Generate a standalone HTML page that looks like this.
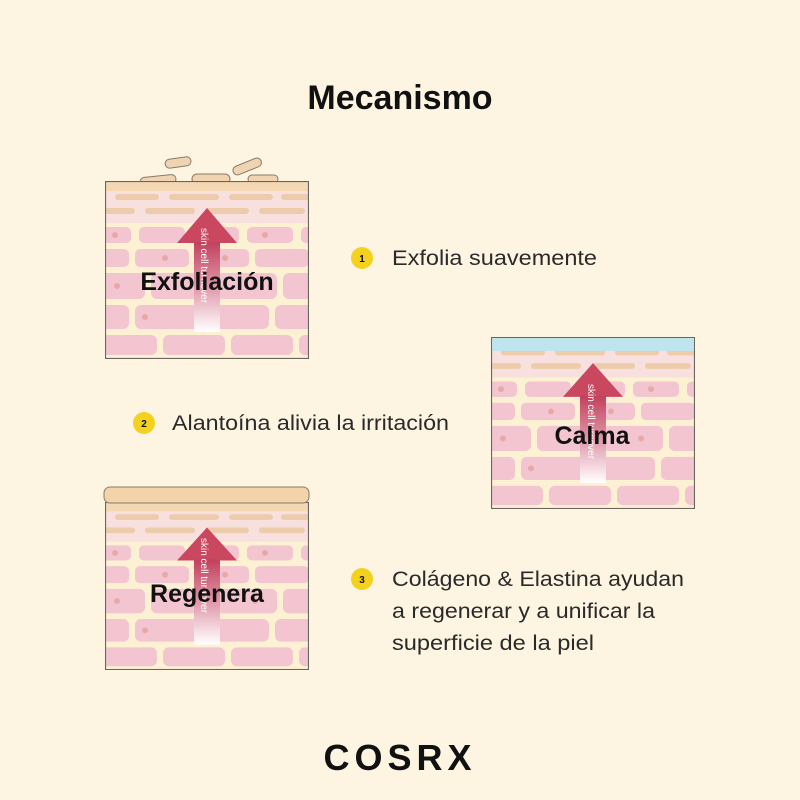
<!DOCTYPE html>
<html><head><meta charset="utf-8"><style>
html,body{margin:0;padding:0;background:#fdf5e2;}
svg{display:block;font-family:"Liberation Sans",sans-serif;}
</style></head><body>
<svg width="800" height="800" viewBox="0 0 800 800" xmlns="http://www.w3.org/2000/svg">
<defs>
<linearGradient id="ag" x1="0" y1="0" x2="0" y2="1">
<stop offset="0" stop-color="#c2405c"/><stop offset="0.55" stop-color="#e3a2b2"/><stop offset="1" stop-color="#ffffff"/>
</linearGradient>
<symbol id="skin" viewBox="0 0 204 178" preserveAspectRatio="none">
<rect width="204" height="178" fill="#fdf1d4"/>
<rect width="204" height="10" fill="#f4d7b3"/>
<rect y="10" width="204" height="32" fill="#f8e0df"/>
<g fill="#ecccaa">
<rect x="10" y="13" width="44" height="6" rx="3"/><rect x="64" y="13" width="50" height="6" rx="3"/><rect x="124" y="13" width="44" height="6" rx="3"/><rect x="176" y="13" width="40" height="6" rx="3"/>
<rect x="-10" y="27" width="40" height="6" rx="3"/><rect x="40" y="27" width="50" height="6" rx="3"/><rect x="100" y="27" width="44" height="6" rx="3"/><rect x="154" y="27" width="46" height="6" rx="3"/>
</g>
<g fill="#f3c5d1">
<rect x="-20" y="46" width="46" height="16" rx="5"/><rect x="34" y="46" width="46" height="16" rx="5"/><rect x="88" y="46" width="46" height="16" rx="5"/><rect x="142" y="46" width="46" height="16" rx="5"/><rect x="196" y="46" width="46" height="16" rx="5"/>
<rect x="-30" y="68" width="54" height="18" rx="5"/><rect x="30" y="68" width="54" height="18" rx="5"/><rect x="90" y="68" width="54" height="18" rx="5"/><rect x="150" y="68" width="54" height="18" rx="5"/>
<rect x="-20" y="92" width="60" height="26" rx="6"/><rect x="46" y="92" width="60" height="26" rx="6"/><rect x="112" y="92" width="60" height="26" rx="6"/><rect x="178" y="92" width="60" height="26" rx="6"/>
<rect x="-40" y="124" width="64" height="24" rx="6"/><rect x="30" y="124" width="64" height="24" rx="6"/><rect x="100" y="124" width="64" height="24" rx="6"/><rect x="170" y="124" width="64" height="24" rx="6"/>
<rect x="-10" y="154" width="62" height="20" rx="6"/><rect x="58" y="154" width="62" height="20" rx="6"/><rect x="126" y="154" width="62" height="20" rx="6"/><rect x="194" y="154" width="62" height="20" rx="6"/>
</g>
<g fill="#e9a8a8"><circle cx="10" cy="54" r="3"/><circle cx="160" cy="54" r="3"/><circle cx="60" cy="77" r="3"/><circle cx="120" cy="77" r="3"/><circle cx="12" cy="105" r="3"/><circle cx="150" cy="105" r="3"/><circle cx="40" cy="136" r="3"/><circle cx="110" cy="136" r="3"/></g>
<polygon points="102,27 132,62 72,62" fill="#c9475f"/>
<rect x="89" y="61" width="26" height="90" fill="url(#ag)"/>
<rect x="0.5" y="0.5" width="203" height="177" fill="none" stroke="#6b6560" stroke-width="1.2"/>
</symbol>
</defs>

<text x="400" y="109" text-anchor="middle" font-size="34" font-weight="bold" fill="#111">Mecanismo</text>

<!-- Block 1 flakes -->
<g fill="#f0d4b2" stroke="#8a7a68" stroke-width="1">
<rect x="165" y="158" width="26" height="9" rx="4.5" transform="rotate(-8 178 162)"/>
<rect x="192" y="174" width="38" height="10" rx="5"/>
<rect x="232" y="162" width="30" height="9" rx="4.5" transform="rotate(-22 247 166)"/>
<rect x="140" y="176" width="36" height="9" rx="4.5" transform="rotate(-6 158 180)"/>
<rect x="248" y="175" width="30" height="8" rx="4"/>
</g>
<use href="#skin" x="105" y="181" width="204" height="178"/>
<text x="201" y="228" transform="rotate(90 201 228)" font-size="10" fill="#fff">skin cell turnover</text>
<text x="207" y="290" text-anchor="middle" font-size="25" font-weight="bold" fill="#111">Exfoliación</text>

<!-- Block 2 -->
<use href="#skin" x="491" y="337" width="204" height="172"/>
<rect x="492" y="338" width="202" height="13" fill="#bfe4ee"/>
<text x="588" y="384" transform="rotate(90 588 384)" font-size="10" fill="#fff">skin cell turnover</text>
<text x="592" y="444" text-anchor="middle" font-size="25" font-weight="bold" fill="#111">Calma</text>

<!-- Block 3 -->
<use href="#skin" x="105" y="502" width="204" height="168"/>
<rect x="104" y="487" width="205" height="16" rx="6" fill="#f3d3aa" stroke="#8a7a68" stroke-width="1"/>
<text x="201" y="538" transform="rotate(90 201 538)" font-size="10" fill="#fff">skin cell turnover</text>
<text x="207" y="602" text-anchor="middle" font-size="25" font-weight="bold" fill="#111">Regenera</text>

<!-- Items -->
<g font-size="10" font-weight="bold" text-anchor="middle" fill="#111">
<circle cx="362" cy="258" r="11" fill="#f4d11e"/><text x="362" y="262">1</text>
<circle cx="144" cy="423" r="11" fill="#f4d11e"/><text x="144" y="427">2</text>
<circle cx="362" cy="579" r="11" fill="#f4d11e"/><text x="362" y="583">3</text>
</g>
<g font-size="21" fill="#2a2a2a" lengthAdjust="spacingAndGlyphs">
<text x="392" y="265" textLength="205" lengthAdjust="spacingAndGlyphs">Exfolia suavemente</text>
<text x="172" y="430" textLength="277" lengthAdjust="spacingAndGlyphs">Alantoína alivia la irritación</text>
<text x="392" y="586" textLength="292" lengthAdjust="spacingAndGlyphs">Colágeno &amp; Elastina ayudan</text>
<text x="392" y="618" textLength="263" lengthAdjust="spacingAndGlyphs">a regenerar y a unificar la</text>
<text x="392" y="650" textLength="202" lengthAdjust="spacingAndGlyphs">superficie de la piel</text>
</g>

<text x="400" y="770" text-anchor="middle" font-size="36" font-weight="bold" letter-spacing="5" fill="#111">COSRX</text>
</svg>
</body></html>
